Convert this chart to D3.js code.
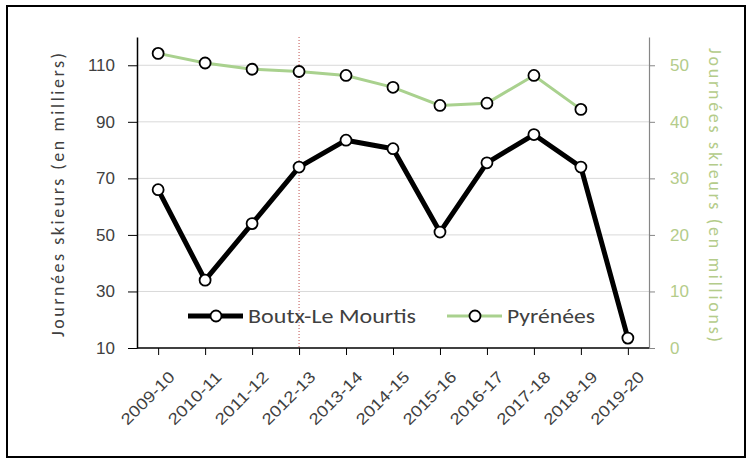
<!DOCTYPE html>
<html>
<head>
<meta charset="utf-8">
<script src="https://cdn.jsdelivr.net/npm/d3@7"></script>
<style>
body { margin: 0; background: #fff; }
svg { font-family: Calibri, Carlito, Lato, "Liberation Sans", sans-serif; }
</style>
</head>
<body>
<svg width="747" height="459"></svg>
<script>
// saisons
var seasons = ["2009-10","2010-11","2011-12","2012-13","2013-14","2014-15","2015-16","2016-17","2017-18","2018-19","2019-20"];
// Boutx-Le Mourtis, milliers de journées
var boutx = [66, 34, 54, 74, 83.5, 80.5, 51, 75.5, 85.5, 74, 13.5];
// Pyrénées, millions de journées (pas de valeur 2019-20)
var pyrenees = [52.1, 50.4, 49.3, 48.9, 48.2, 46.1, 42.9, 43.3, 48.2, 42.2, null];
var leftTicks = [10, 30, 50, 70, 90, 110];
var rightTicks = [0, 10, 20, 30, 40, 50];
var markerSeason = "2012-13";

var svg = d3.select("svg");
var pLeft = 137, pRight = 649, pTop = 37, pBottom = 348;

svg.append("rect")
  .attr("x", 7).attr("y", 6)
  .attr("width", 738).attr("height", 451)
  .attr("fill", "#fff")
  .attr("stroke", "#000")
  .attr("stroke-width", 2);

var x = d3.scalePoint().domain(seasons).range([pLeft, pRight]).padding(0.45);
var yL = d3.scaleLinear().domain([10, 120]).range([pBottom, pTop]);
var yR = d3.scaleLinear().domain([0, 55]).range([pBottom, pTop]);

// grille
svg.append("g").selectAll("line")
  .data(leftTicks.slice(1))
  .enter()
  .append("line")
  .attr("x1", pLeft).attr("x2", pRight)
  .attr("y1", function(d){ return yL(d); })
  .attr("y2", function(d){ return yL(d); })
  .attr("stroke", "#d9d9d9")
  .attr("stroke-width", 1);

// ligne pointillée rouge
svg.append("line")
  .attr("x1", x(markerSeason)).attr("x2", x(markerSeason))
  .attr("y1", pTop).attr("y2", pBottom)
  .attr("stroke", "#c0504d")
  .attr("stroke-width", 1)
  .attr("stroke-dasharray", "1,2");

// axes
var axL = svg.append("g")
  .attr("transform", "translate(" + pLeft + ",0)")
  .call(d3.axisLeft(yL).tickValues(leftTicks).tickSize(9).tickSizeOuter(0).tickPadding(13));
axL.select(".domain").attr("stroke", "#000").attr("stroke-width", 1.5);
axL.selectAll(".tick line").attr("stroke", "#000");
axL.selectAll("text").attr("font-size", "17px").attr("fill", "#404040");

var axR = svg.append("g")
  .attr("transform", "translate(" + pRight + ",0)")
  .call(d3.axisRight(yR).tickValues(rightTicks).tickSize(6).tickSizeOuter(0).tickPadding(15));
axR.select(".domain").attr("stroke", "#868686").attr("stroke-width", 1.2);
axR.selectAll(".tick line").attr("stroke", "#868686");
axR.selectAll("text").attr("font-size", "17px").attr("fill", "#b4cc8a");

var axB = svg.append("g")
  .attr("transform", "translate(0," + pBottom + ")")
  .call(d3.axisBottom(x).tickSize(7).tickSizeOuter(0));
axB.select(".domain").attr("stroke", "#000").attr("stroke-width", 1.5)
  .attr("d", "M" + pLeft + ",0H" + pRight);
axB.selectAll(".tick line").attr("stroke", "#000");
axB.selectAll("text")
  .attr("font-size", "16px")
  .attr("fill", "#404040")
  .attr("text-anchor", "end")
  .attr("dy", "0.35em")
  .attr("textLength", 68)
  .attr("lengthAdjust", "spacingAndGlyphs")
  .attr("transform", "translate(6,19) rotate(-45)");

// titres d'axes
svg.append("text")
  .attr("transform", "translate(64,195) rotate(-90)")
  .attr("text-anchor", "middle")
  .attr("font-size", "18px")
  .attr("fill", "#404040")
  .attr("textLength", 284)
  .attr("lengthAdjust", "spacing")
  .text("Journées skieurs (en milliers)");

svg.append("text")
  .attr("transform", "translate(709,195) rotate(90)")
  .attr("text-anchor", "middle")
  .attr("font-size", "18px")
  .attr("fill", "#b4cc8a")
  .attr("textLength", 294)
  .attr("lengthAdjust", "spacing")
  .text("Journées skieurs (en millions)");

// séries
var lineP = d3.line()
  .defined(function(d){ return d != null; })
  .x(function(d, i){ return x(seasons[i]); })
  .y(function(d){ return yR(d); });
var lineB = d3.line()
  .x(function(d, i){ return x(seasons[i]); })
  .y(function(d){ return yL(d); });

svg.append("path")
  .datum(pyrenees)
  .attr("d", lineP)
  .attr("fill", "none")
  .attr("stroke", "#a9d18e")
  .attr("stroke-width", 3);

svg.append("path")
  .datum(boutx)
  .attr("d", lineB)
  .attr("fill", "none")
  .attr("stroke", "#000")
  .attr("stroke-width", 5)
  .attr("stroke-linejoin", "round");

svg.append("g").selectAll("circle")
  .data(pyrenees.map(function(v, i){ return {s: seasons[i], v: v}; }).filter(function(d){ return d.v != null; }))
  .enter()
  .append("circle")
  .attr("cx", function(d){ return x(d.s); })
  .attr("cy", function(d){ return yR(d.v); })
  .attr("r", 5.5)
  .attr("fill", "#fff")
  .attr("stroke", "#000")
  .attr("stroke-width", 1.8);

svg.append("g").selectAll("circle")
  .data(boutx)
  .enter()
  .append("circle")
  .attr("cx", function(d, i){ return x(seasons[i]); })
  .attr("cy", function(d){ return yL(d); })
  .attr("r", 5.5)
  .attr("fill", "#fff")
  .attr("stroke", "#000")
  .attr("stroke-width", 1.8);

// légende
var legend = [
  {name: "Boutx-Le Mourtis", color: "#000", w: 5, x: 188, len: 168},
  {name: "Pyrénées", color: "#a9d18e", w: 3, x: 447, len: 88}
];
var lg = svg.append("g").selectAll("g")
  .data(legend)
  .enter()
  .append("g")
  .attr("transform", function(d){ return "translate(" + d.x + ",316)"; });
lg.append("line")
  .attr("x1", 0).attr("x2", 55)
  .attr("stroke", function(d){ return d.color; })
  .attr("stroke-width", function(d){ return d.w; });
lg.append("circle")
  .attr("cx", 28).attr("r", 5.5)
  .attr("fill", "#fff")
  .attr("stroke", "#000")
  .attr("stroke-width", 1.8);
lg.append("text")
  .attr("x", 60)
  .attr("dy", "0.35em")
  .attr("font-size", "20px")
  .attr("fill", "#404040")
  .attr("textLength", function(d){ return d.len; })
  .attr("lengthAdjust", "spacingAndGlyphs")
  .text(function(d){ return d.name; });
</script>
</body>
</html>
